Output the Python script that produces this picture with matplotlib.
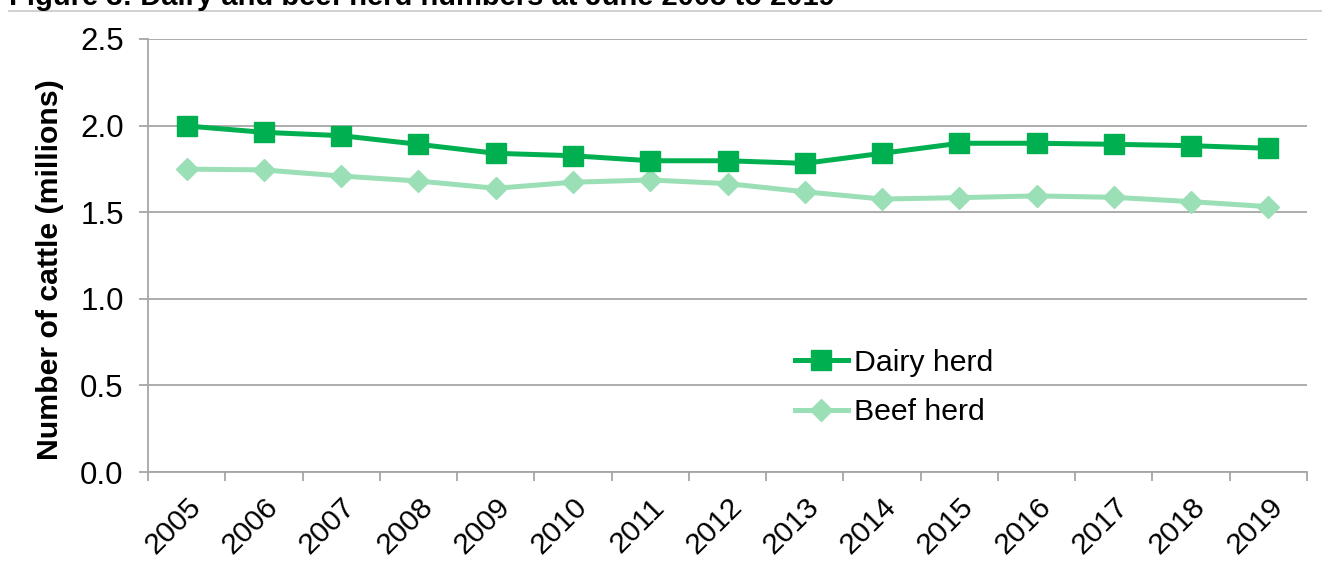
import matplotlib
matplotlib.use("Agg")
import matplotlib.pyplot as plt
import matplotlib.transforms as mtransforms
from matplotlib.lines import Line2D

plt.rcParams['font.family'] = ['Liberation Sans', 'DejaVu Sans']

years = ['2005', '2006', '2007', '2008', '2009', '2010', '2011', '2012',
         '2013', '2014', '2015', '2016', '2017', '2018', '2019']
dairy = [1.998, 1.961, 1.942, 1.892, 1.840, 1.826, 1.797, 1.797,
         1.782, 1.840, 1.898, 1.898, 1.892, 1.884, 1.869]
beef = [1.749, 1.744, 1.709, 1.680, 1.638, 1.673, 1.686, 1.665,
        1.618, 1.576, 1.584, 1.594, 1.586, 1.561, 1.532]

dairy_col = '#00b050'
beef_col = '#9bdfb6'
grid_col = '#a6a6a6'

fig = plt.figure(figsize=(13.22, 5.61), dpi=100)
W, H = 1322, 561
ax = fig.add_axes([148 / W, 1 - 472 / H, (1307 - 148) / W, (472 - 39) / H])

x = list(range(len(years)))
ax.plot(x, dairy, color=dairy_col, lw=3.6, marker='s', ms=14.5,
        mec=dairy_col, label='Dairy herd', zorder=4)
ax.plot(x, beef, color=beef_col, lw=3.6, marker='D', ms=11,
        mec=beef_col, label='Beef herd', zorder=3)

ax.set_xlim(-0.5, len(years) - 0.5)
ax.set_ylim(0, 2.5)
ax.set_yticks([0, 0.5, 1.0, 1.5, 2.0, 2.5])
ax.set_yticklabels(['0.0', '0.5', '1.0', '1.5', '2.0', '2.5'])
ax.yaxis.grid(True, color=grid_col, lw=1.3)
ax.set_axisbelow(True)

# tick marks between categories, labels at category centres
ax.set_xticks([i - 0.5 for i in range(len(years) + 1)])
ax.set_xticklabels([])
ax.set_xticks(x, minor=True)
ax.set_xticklabels(years, minor=True, rotation=45, ha='right', va='top',
                   rotation_mode='anchor', fontsize=21.5)
shift = mtransforms.ScaledTranslation(-2 / 100, 0, fig.dpi_scale_trans)
for lab in ax.get_xticklabels(minor=True):
    lab.set_transform(lab.get_transform() + shift)
ax.tick_params(axis='x', which='major', length=6.5, width=1.3, color=grid_col)
ax.tick_params(axis='x', which='minor', length=0, pad=15)
ax.tick_params(axis='y', length=6.5, width=1.3, color=grid_col, labelsize=22.5, pad=11)

for s in ['top', 'right']:
    ax.spines[s].set_visible(False)
for s in ['left', 'bottom']:
    ax.spines[s].set_color(grid_col)
    ax.spines[s].set_linewidth(1.3)

ax.set_ylabel('Number of cattle (millions)', fontsize=21.8, fontweight='bold')
ax.yaxis.set_label_coords((64 - 148) / 1159, (472 - 270) / 433)

ax.legend(loc='upper left', bbox_to_anchor=((795 - 148) / 1159, (472 - 349) / 433),
          frameon=False, fontsize=21.8, handlelength=1.75, handletextpad=0.2,
          labelspacing=0.7, borderpad=0, borderaxespad=0)

fig.text(9 / W, 1 - 5 / H, 'Figure 3: Dairy and beef herd numbers at June 2005 to 2019',
         fontsize=21, fontweight='bold', ha='left', va='baseline')
fig.add_artist(Line2D([9 / W, 1], [1 - 10.5 / H, 1 - 10.5 / H], color='#c8c8c8', lw=1.2))

fig.savefig('out.png', dpi=100)
